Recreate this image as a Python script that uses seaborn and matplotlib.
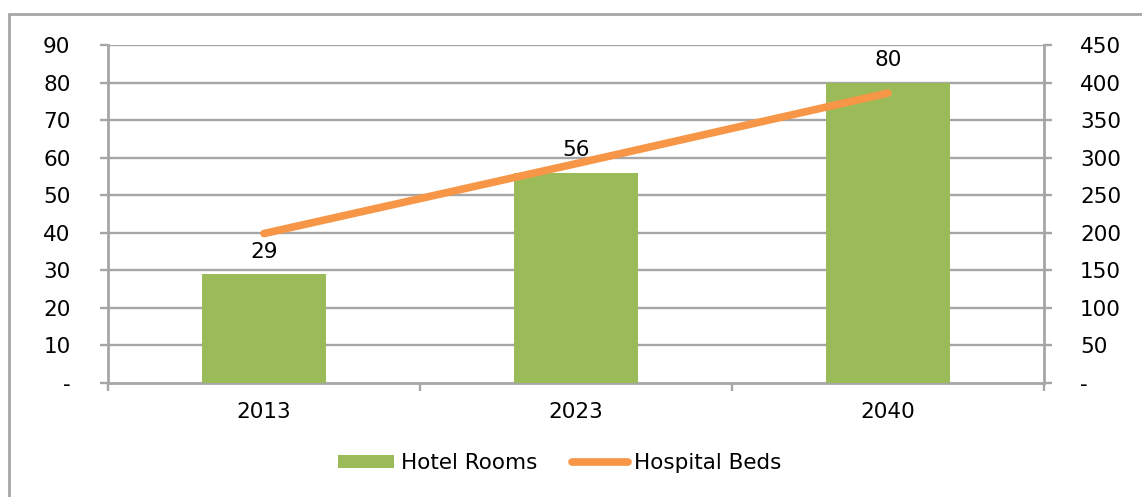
import matplotlib
matplotlib.use("Agg")
import matplotlib.pyplot as plt
from matplotlib.lines import Line2D
from matplotlib.patches import Patch
import numpy as np
import pandas as pd
import seaborn as sns

# Chart data
years = ["2013", "2023", "2040"]
hotel_rooms = [29, 56, 80]
hospital_beds = [199, 292, 386]

left_ticks = [0, 10, 20, 30, 40, 50, 60, 70, 80, 90]
left_labels = ["-", "10", "20", "30", "40", "50", "60", "70", "80", "90"]
right_ticks = [0, 50, 100, 150, 200, 250, 300, 350, 400, 450]
right_labels = ["-", "50", "100", "150", "200", "250", "300", "350", "400", "450"]

GREEN = "#9BBB59"
ORANGE = "#F79646"
GRAY = "#A6A6A6"
FS = 15.5

sns.set_theme(style="white")
plt.rcParams["font.family"] = ["DejaVu Sans"]
plt.rcParams["text.color"] = "black"
plt.rcParams["xtick.color"] = "black"
plt.rcParams["ytick.color"] = "black"

W, H = 1142, 497
fig = plt.figure(figsize=(W / 100, H / 100), dpi=100)
ax = fig.add_axes([108 / W, 1 - 383 / H, (1044 - 108) / W, (383 - 45) / H])

df = pd.DataFrame({"year": years, "rooms": hotel_rooms, "beds": hospital_beds})

sns.barplot(data=df, x="year", y="rooms", color=GREEN, saturation=1,
            width=0.4, ax=ax, zorder=3)
for p in ax.patches:
    p.set_edgecolor("none")

ax.set_xlim(-0.5, len(years) - 0.5)
ax.set_ylim(0, 90)
ax.set_yticks(left_ticks)
ax.set_yticklabels(left_labels)
ax.set_xlabel("")
ax.set_ylabel("")

# horizontal gridlines
for t in left_ticks[1:]:
    ax.axhline(t, color=GRAY, lw=1.7, zorder=1)

for side in ["top", "right"]:
    ax.spines[side].set_visible(False)
for side in ["left", "bottom"]:
    ax.spines[side].set_color(GRAY)
    ax.spines[side].set_linewidth(2)

ax.tick_params(axis="y", which="major", direction="out", length=6, width=1.7,
               color=GRAY, labelcolor="black", pad=21, labelsize=FS, left=True)
# category ticks between groups on the x axis
ax.set_xticks(range(len(years)))
ax.set_xticklabels(years)
ax.set_xticks(np.arange(-0.5, len(years), 1.0), minor=True)
ax.tick_params(axis="x", which="major", length=0, pad=13.5, labelsize=FS,
               labelcolor="black")
ax.tick_params(axis="x", which="minor", direction="out", length=6, width=1.7,
               color=GRAY, bottom=True)

# value labels on bars
ax.bar_label(ax.containers[0], labels=[str(v) for v in hotel_rooms],
             padding=9, fontsize=FS, color="black")

# secondary axis for hospital beds
ax2 = ax.twinx()
sns.lineplot(x=np.arange(len(years)), y=df["beds"], ax=ax2, color=ORANGE,
             lw=5.5, solid_capstyle="round", zorder=4, legend=False)
ax2.set_ylim(0, 450)
ax2.set_yticks(right_ticks)
ax2.set_yticklabels(right_labels, ha="left")
ax2.set_ylabel("")
for side in ["top", "left", "bottom"]:
    ax2.spines[side].set_visible(False)
ax2.spines["right"].set_color(GRAY)
ax2.spines["right"].set_linewidth(2)
ax2.tick_params(axis="y", direction="out", length=6, width=1.7, color=GRAY,
                labelcolor="black", pad=20, labelsize=FS, right=True)
ax2.set_xlim(-0.5, len(years) - 0.5)

# legend
handles = [Patch(facecolor=GREEN, edgecolor="none"),
           Line2D([0], [0], color=ORANGE, lw=5.5, solid_capstyle="round")]
fig.legend(handles, ["Hotel Rooms", "Hospital Beds"], loc="center",
           bbox_to_anchor=(560 / W, 1 - 463 / H), ncol=2, frameon=False,
           fontsize=FS, handlelength=2.6, handleheight=0.6, handletextpad=0.3,
           columnspacing=1.6, labelcolor="black")

# outer chart frame
fig.add_artist(Line2D([9 / W, 9 / W], [0, 1 - 14 / H], transform=fig.transFigure,
                      color=GRAY, lw=2))
fig.add_artist(Line2D([9 / W, 1], [1 - 14 / H, 1 - 14 / H], transform=fig.transFigure,
                      color=GRAY, lw=2))

fig.savefig("out.png", dpi=100, facecolor="white")
